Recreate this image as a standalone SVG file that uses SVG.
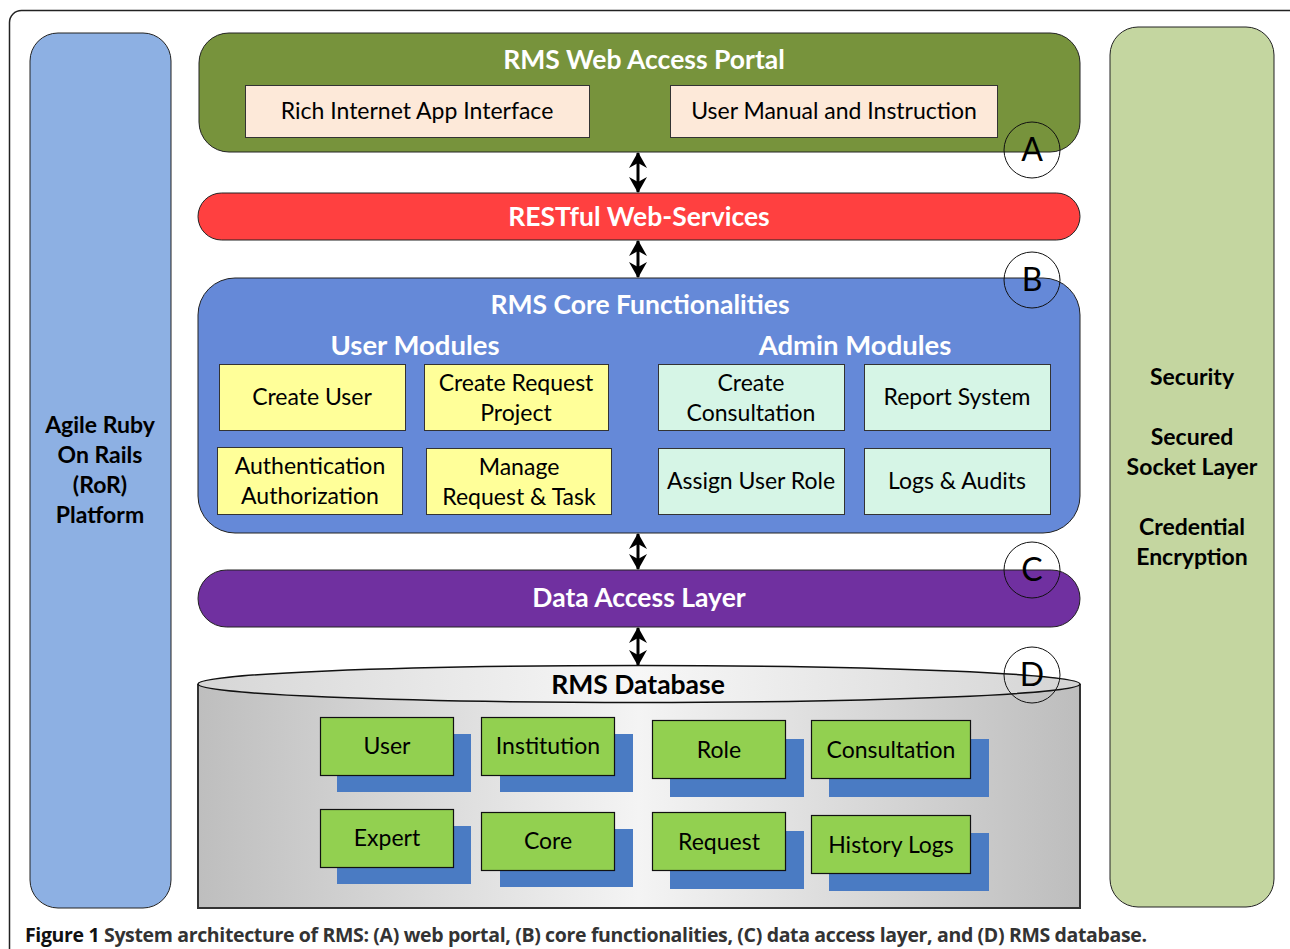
<svg xmlns="http://www.w3.org/2000/svg" width="1290" height="949" viewBox="0 0 1290 949">
<defs>
<style>
.t{font-family:Lato,"Open Sans","DejaVu Sans",sans-serif;text-anchor:middle}
.w{fill:#fff;font-weight:bold;font-size:26.5px}
.b{font-weight:bold;font-size:23px;fill:#000}
.r{font-size:23px;fill:#000}
.sh{stroke:#222;stroke-width:1}
.yel{fill:#FFFF99;stroke:#333;stroke-width:1}
.adm{fill:#D6F5E6;stroke:#333;stroke-width:1}
.grn{fill:#92D050;stroke:#111;stroke-width:1.2}
.shd{fill:#4A7BC3}
.circ{fill:none;stroke:#111;stroke-width:1}
.lt{font-family:Lato,"Open Sans",sans-serif;font-size:32px;text-anchor:middle;fill:#000}
.con{stroke:#000;stroke-width:3;fill:none;marker-start:url(#ah);marker-end:url(#ah)}
</style>
<marker id="ah" viewBox="0 0 16 18" refX="15" refY="9" markerWidth="16" markerHeight="18" markerUnits="userSpaceOnUse" orient="auto-start-reverse">
<path d="M0,0 L16,9 L0,18 L5,9 Z" fill="#000"/>
</marker>
<linearGradient id="dbBody" x1="0" y1="0" x2="1" y2="0">
<stop offset="0" stop-color="#BEBEBE"/>
<stop offset="0.5" stop-color="#F4F4F4"/>
<stop offset="1" stop-color="#BDBDBD"/>
</linearGradient>
<linearGradient id="dbTop" x1="0" y1="0" x2="1" y2="0">
<stop offset="0" stop-color="#D6D6D6"/>
<stop offset="0.5" stop-color="#F7F7F7"/>
<stop offset="1" stop-color="#D4D4D4"/>
</linearGradient>
</defs>
<rect width="1290" height="949" fill="#fff"/>
<rect x="9.5" y="10.5" width="1300" height="960" rx="12" fill="none" stroke="#222" stroke-width="1.5"/>

<g id="ror-platform">
<rect x="30" y="33" width="141" height="875" rx="28" fill="#8DB0E3" class="sh"/>
<text class="t b" x="100" y="433">Agile Ruby</text>
<text class="t b" x="100" y="463">On Rails</text>
<text class="t b" x="100" y="493">(RoR)</text>
<text class="t b" x="100" y="523">Platform</text>
</g>

<g id="security">
<rect x="1110" y="27" width="164" height="880" rx="28" fill="#C4D6A0" class="sh"/>
<text class="t b" x="1192" y="385">Security</text>
<text class="t b" x="1192" y="445">Secured</text>
<text class="t b" x="1192" y="475">Socket Layer</text>
<text class="t b" x="1192" y="535">Credential</text>
<text class="t b" x="1192" y="565">Encryption</text>
</g>

<g id="web-portal">
<rect x="199" y="33" width="881" height="119" rx="30" fill="#77933C" class="sh"/>
<text class="t w" x="644" y="69">RMS Web Access Portal</text>
<rect x="245.5" y="85.5" width="344" height="52" fill="#FDE9D9" stroke="#333"/>
<text class="t r" x="417" y="119">Rich Internet App Interface</text>
<rect x="670.5" y="85.5" width="327" height="52" fill="#FDE9D9" stroke="#333"/>
<text class="t r" x="834" y="119">User Manual and Instruction</text>
</g>

<g id="restful">
<rect x="198" y="193" width="882" height="47" rx="23.5" fill="#FF4040" class="sh"/>
<text class="t w" x="639" y="226">RESTful Web-Services</text>
</g>

<g id="core">
<rect x="198" y="278" width="882" height="255" rx="37" fill="#6589D8" class="sh"/>
<text class="t w" x="640" y="314">RMS Core Functionalities</text>
<text class="t w" x="415" y="355" style="font-size:27.5px">User Modules</text>
<text class="t w" x="855" y="355" style="font-size:27.5px">Admin Modules</text>
</g>

<g id="create-user">
<rect class="yel" x="219.5" y="364.5" width="186" height="66"/>
<text class="t r" x="312" y="405">Create User</text>
</g>
<g id="create-request-project">
<rect class="yel" x="424.5" y="364.5" width="184" height="66"/>
<text class="t r" x="516" y="391">Create Request</text>
<text class="t r" x="516" y="421">Project</text>
</g>
<g id="auth">
<rect class="yel" x="217.5" y="447.5" width="185" height="67"/>
<text class="t r" x="310" y="474">Authentication</text>
<text class="t r" x="310" y="504">Authorization</text>
</g>
<g id="manage-request">
<rect class="yel" x="426.5" y="448.5" width="185" height="66"/>
<text class="t r" x="519" y="475">Manage</text>
<text class="t r" x="519" y="505">Request &amp; Task</text>
</g>
<g id="create-consultation">
<rect class="adm" x="658.5" y="364.5" width="186" height="66"/>
<text class="t r" x="751" y="391">Create</text>
<text class="t r" x="751" y="421">Consultation</text>
</g>
<g id="report-system">
<rect class="adm" x="864.5" y="364.5" width="186" height="66"/>
<text class="t r" x="957" y="405">Report System</text>
</g>
<g id="assign-user-role">
<rect class="adm" x="658.5" y="448.5" width="186" height="66"/>
<text class="t r" x="751" y="489">Assign User Role</text>
</g>
<g id="logs-audits">
<rect class="adm" x="864.5" y="448.5" width="186" height="66"/>
<text class="t r" x="957" y="489">Logs &amp; Audits</text>
</g>

<g id="data-access">
<rect x="198" y="570" width="882" height="57" rx="28.5" fill="#7030A0" class="sh"/>
<text class="t w" x="639" y="607">Data Access Layer</text>
</g>

<g id="database">
<path d="M198,684 L198,908 L1080,908 L1080,684" fill="url(#dbBody)" stroke="#333" stroke-width="2"/>
<ellipse cx="639" cy="684" rx="441" ry="18.5" fill="url(#dbTop)" stroke="#111" stroke-width="1.5"/>
<text class="t b" x="638" y="694" style="font-size:26.5px">RMS Database</text>
</g>

<g id="db-user">
<rect class="shd" x="337" y="734" width="134" height="58"/>
<rect class="grn" x="320.5" y="717.5" width="133" height="58"/>
<text class="t r" x="387" y="754">User</text>
</g>
<g id="db-institution">
<rect class="shd" x="500" y="734" width="133" height="58"/>
<rect class="grn" x="481.5" y="717.5" width="133" height="58"/>
<text class="t r" x="548" y="754">Institution</text>
</g>
<g id="db-role">
<rect class="shd" x="670" y="739" width="134" height="58"/>
<rect class="grn" x="652.5" y="720.5" width="133" height="58"/>
<text class="t r" x="719" y="758">Role</text>
</g>
<g id="db-consultation">
<rect class="shd" x="829" y="739" width="160" height="58"/>
<rect class="grn" x="811.5" y="720.5" width="159" height="58"/>
<text class="t r" x="891" y="758">Consultation</text>
</g>
<g id="db-expert">
<rect class="shd" x="337" y="826" width="134" height="58"/>
<rect class="grn" x="320.5" y="809.5" width="133" height="58"/>
<text class="t r" x="387" y="846">Expert</text>
</g>
<g id="db-core">
<rect class="shd" x="500" y="829" width="133" height="58"/>
<rect class="grn" x="481.5" y="812.5" width="133" height="58"/>
<text class="t r" x="548" y="849">Core</text>
</g>
<g id="db-request">
<rect class="shd" x="670" y="831" width="134" height="58"/>
<rect class="grn" x="652.5" y="812.5" width="133" height="58"/>
<text class="t r" x="719" y="850">Request</text>
</g>
<g id="db-history">
<rect class="shd" x="829" y="833" width="160" height="58"/>
<rect class="grn" x="811.5" y="815.5" width="159" height="58"/>
<text class="t r" x="891" y="853">History Logs</text>
</g>

<g id="label-a"><circle class="circ" cx="1032" cy="150" r="28"/><text class="lt" x="1032" y="161">A</text></g>
<g id="label-b"><circle class="circ" cx="1032" cy="280" r="28"/><text class="lt" x="1032" y="291">B</text></g>
<g id="label-c"><circle class="circ" cx="1032" cy="570" r="28"/><text class="lt" x="1032" y="581">C</text></g>
<g id="label-d"><circle class="circ" cx="1032" cy="675" r="28"/><text class="lt" x="1032" y="686">D</text></g>

<g id="connectors">
<line class="con" x1="638" y1="153" x2="638" y2="192"/>
<line class="con" x1="638" y1="241" x2="638" y2="277"/>
<line class="con" x1="638" y1="534" x2="638" y2="569"/>
<line class="con" x1="638" y1="628" x2="638" y2="665"/>
</g>

<g id="caption">
<text x="25" y="942" textLength="1122" style="font-family:'Open Sans','Noto Sans',sans-serif;font-size:19.5px;font-weight:bold;fill:#333"><tspan fill="#111">Figure 1</tspan> System architecture of RMS: (A) web portal, (B) core functionalities, (C) data access layer, and (D) RMS database.</text>
</g>
</svg>
